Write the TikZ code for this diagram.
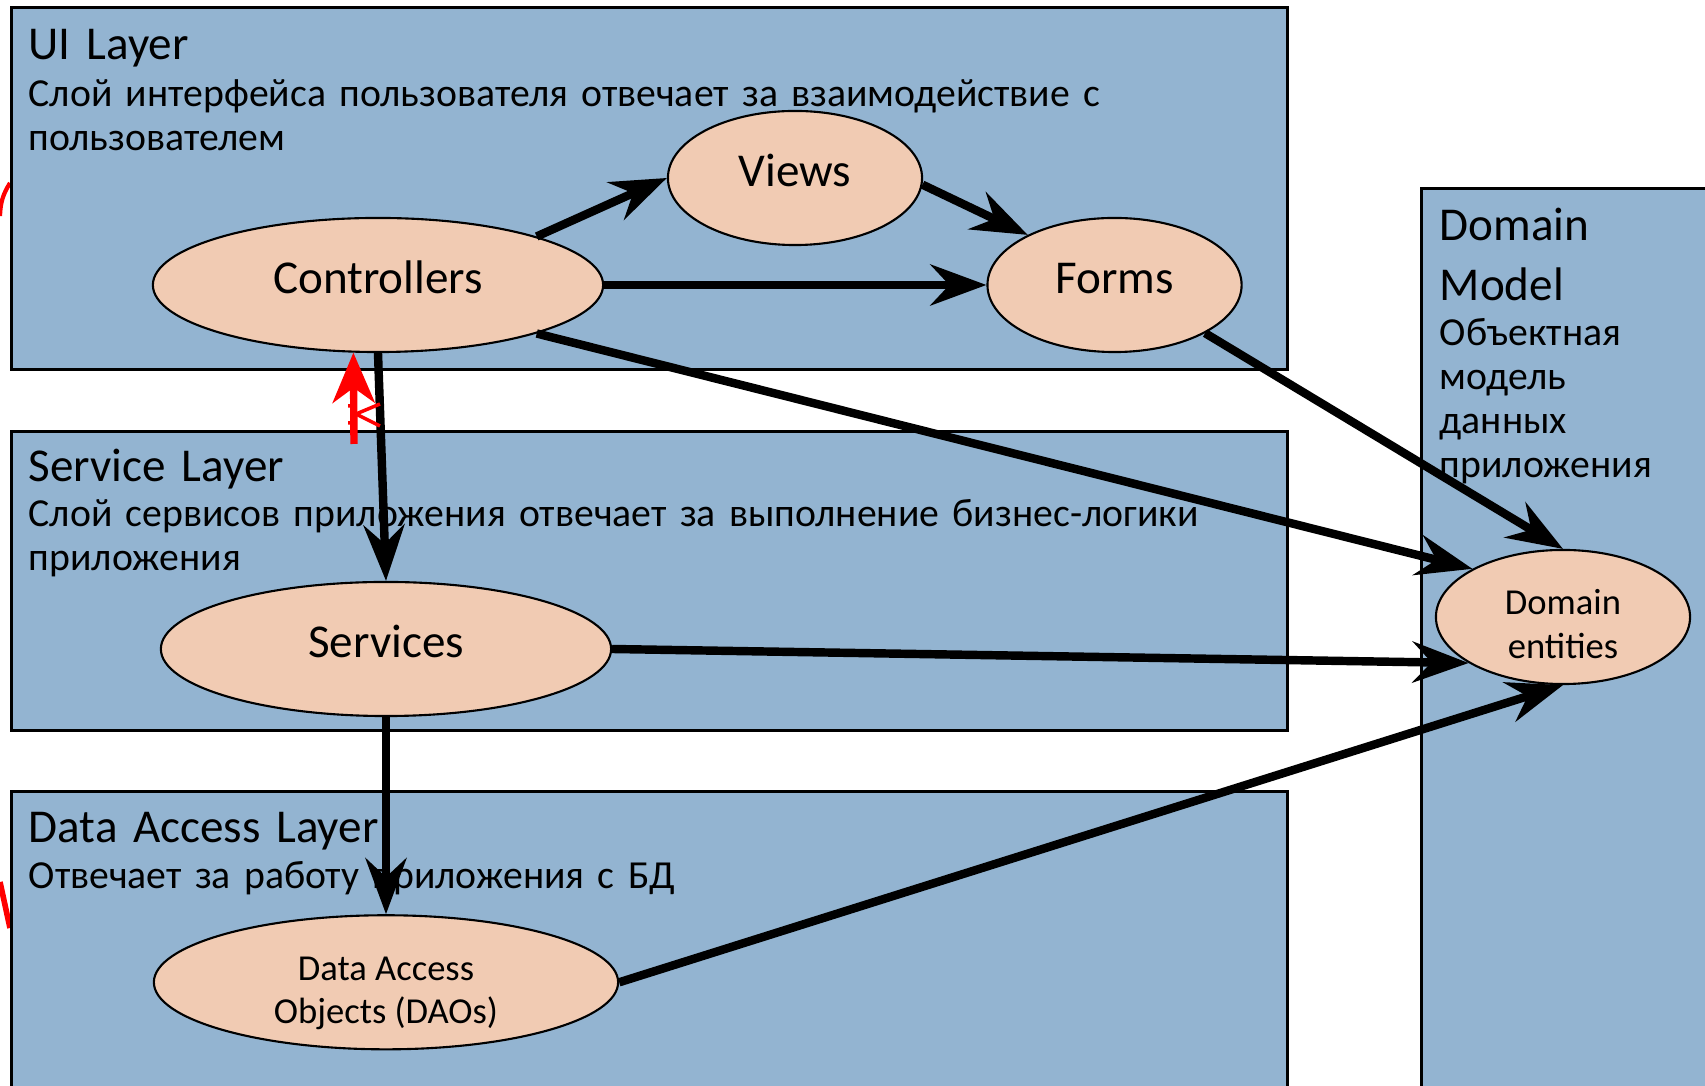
\documentclass[tikz,border=0pt]{standalone}
\usepackage{fontspec}
\setmainfont{Carlito}
\usetikzlibrary{positioning,shapes.geometric,arrows.meta}
\tikzset{
	>={Stealth[length=5.6mm,width=4.1mm,inset=1.9mm]},
}
\definecolor{layerblue}{RGB}{147,180,209}
\definecolor{unitpeach}{RGB}{241,203,179}

\begin{document}
\begin{tikzpicture}[
		x=0.01cm, y=-0.01cm,
		layerbox/.style={draw, fill=layerblue, line width=0.8pt, anchor=north west, inner sep=0},
		unit/.style={ellipse, draw, fill=unitpeach, line width=0.6pt, inner sep=0,
			minimum height=1.34cm, text height=9.5pt, text depth=4.4pt,
			font=\fontsize{13.4}{16}\selectfont},
		small/.style={align=center, text height=23.5pt, text depth=0pt,
			font=\fontsize{10.4}{12.4}\selectfont},
		laytitle/.style={anchor=base west, inner sep=0, align=left, text width=#1,
			font=\fontsize{13.4}{16.8}\selectfont},
		descr/.style={anchor=base west, inner sep=0, align=left, text width=#1,
			font=\fontsize{11.3}{12.5}\selectfont},
		flow/.style={->, line width=2.4pt},
		redflow/.style={-{Stealth[length=5mm,width=4.2mm,inset=1.5mm]}, red, line width=2.1pt},
	]
	\useasboundingbox (0,0) rectangle (1705,1086);
	% marks on the left edge
	\draw[red, line width=1.2pt] (0,216) to[bend left=15] (10,183);
	\draw[red, line width=1.6pt] (0,882) -- (10,928);
	% layers
	\node(ui)[layerbox, minimum width=12.75cm, minimum height=3.62cm] at (10,6) {};
	\node(sl)[layerbox, minimum width=12.75cm, minimum height=2.99cm] at (10,430) {};
	\node(dal)[layerbox, minimum width=12.75cm, minimum height=3.2cm] at (10,790) {};
	\node(dm)[layerbox, minimum width=3.1cm, minimum height=9.2cm] at (1420,187) {};
	% layer texts
	\path
		node(uit)[laytitle=5cm] at (28,60) {UI Layer}
		node(uid)[descr=14cm] at (28,106.6) {Слой интерфейса пользователя отвечает за взаимодействие с\\пользователем}
		node(slt)[laytitle=5cm] at (28,482) {Service Layer}
		node(sld)[descr=14cm] at (28,527) {Слой сервисов приложения отвечает за выполнение бизнес-логики\\приложения}
		node(dalt)[laytitle=5cm] at (28,843) {Data Access Layer}
		node(dald)[descr=14cm] at (28,889) {Отвечает за работу приложения с БД}
		node(dmt)[laytitle=2.5cm] at (1439,241) {Domain\\Model}
		node(dmd)[descr=2.5cm] at (1439,346) {Объектная\\модель\\данных\\приложения};
	% units
	\path
		node(ctrl)[unit, minimum width=4.5cm] at (378,285) {Controllers}
		node(views)[unit, minimum width=2.54cm] at (795,178) {Views}
		node(forms)[unit, minimum width=2.54cm, right=3.82cm of ctrl] {Forms}
		node(serv)[unit, minimum width=4.5cm] at (386,649) {Services}
		node(dao)[unit, small, minimum width=4.64cm, below=1.97cm of serv] {Data Access\\Objects (DAOs)}
		node(ent)[unit, small, minimum width=2.54cm] at (1563,617) {Domain\\entities};
	% dependencies
	\draw[flow] (ctrl.17) -- (views.west);
	\draw[flow] (views.-3) -- (forms.150);
	\draw[flow] (ctrl.east) -- (forms.west);
	\draw[flow] (ctrl.-17) -- (ent.152);
	\draw[flow] (forms.-28) -- (ent.north);
	\draw[flow] (serv.east) -- (ent.206);
	\draw[flow] (dao.east) -- (ent.south);
	\draw[flow] (ctrl.south) -- (serv.north);
	\draw[flow] (serv.south) -- (dao.north);
	% forbidden call back up
	\coordinate (redtail) at (354,444);
	\draw[redflow] (redtail) -- (ctrl.-110);
	\draw[red, line width=1pt] (348,406) -- (354,406) (348,423) -- (354,423)
		(356,414) -- (380,404) (356,414) -- (380,426);
\end{tikzpicture}
\end{document}
